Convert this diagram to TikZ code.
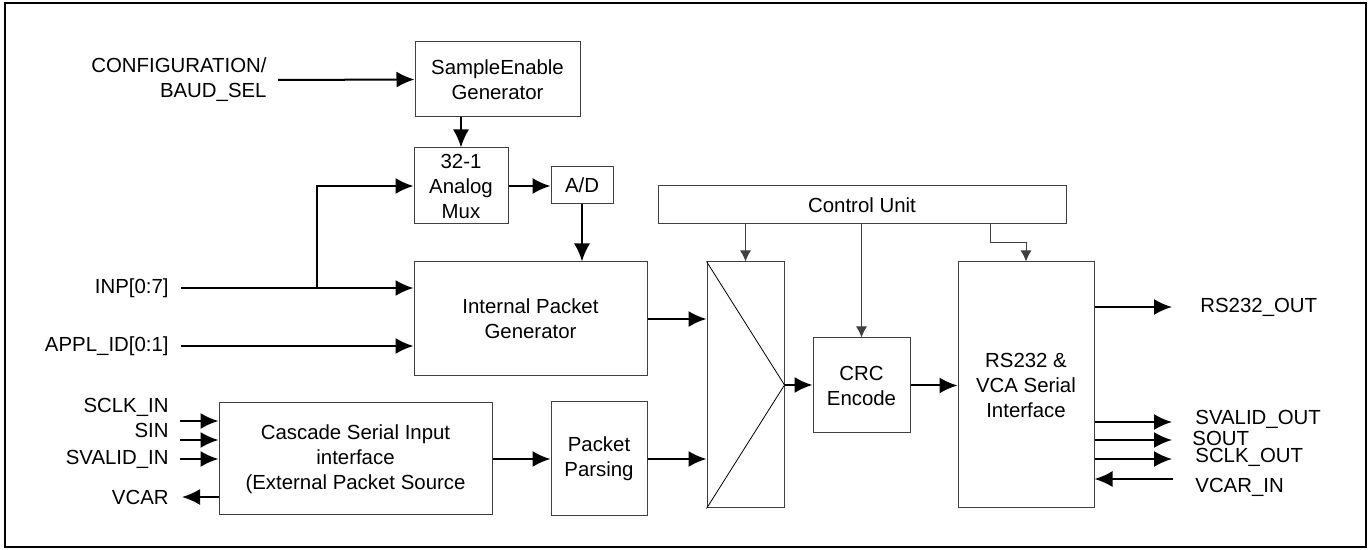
\documentclass[tikz,border=0pt]{standalone}
\usepackage{fontspec}
\setmainfont{Liberation Sans}
\usetikzlibrary{arrows.meta}
\tikzset{
  every node/.style={font=\fontsize{10.2}{12.5}\selectfont},
  block/.style={draw=black!75, line width=0.5pt, rectangle, align=center, inner sep=0pt},
  sig/.style={line width=1pt, -{Latex[length=9pt,width=8pt]}},
  ctl/.style={draw=black!75, line width=0.5pt, -{Latex[length=5.5pt,width=5.5pt]}},
  lbl/.style={inner sep=0pt, align=right}
}

\begin{document}
\begin{tikzpicture}[x=0.5pt, y=-0.5pt]
  \useasboundingbox (0,0) rectangle (1372,550);
  \draw[line width=1pt] (5,3) rectangle (1366,547);

  % blocks
  \node[block, minimum width=82.5pt, minimum height=37.5pt] (sgen)   at (497.5,79.5) {SampleEnable\\Generator};
  \node[block, minimum width=47pt,   minimum height=38pt]   (amux)   at (461,186)    {32-1\\Analog\\Mux};
  \node[block, minimum width=31pt,   minimum height=18.5pt] (adc)    at (582,185.5)  {A/D};
  \node[block, minimum width=116.5pt,minimum height=57pt]   (ipg)    at (530.5,319)  {Internal Packet\\Generator};
  \node[block, minimum width=136.5pt,minimum height=56pt]   (csi)    at (355.5,459)  {Cascade Serial Input\\interface\\(External Packet Source};
  \node[block, minimum width=48pt,   minimum height=57pt]   (pparse) at (599,459)    {Packet\\Parsing};
  \node[block, minimum width=38.5pt, minimum height=123pt]  (mux)    at (745.5,385)  {};
  \node[block, minimum width=204pt,  minimum height=19pt]   (ctrl)   at (862,205)    {Control Unit};
  \node[block, minimum width=48.5pt, minimum height=47.5pt] (crc)    at (861.5,385.5){CRC\\Encode};
  \node[block, minimum width=68pt,   minimum height=123pt]  (rsvca)  at (1026,385)   {RS232 \&\\VCA Serial\\Interface};
  \draw[line width=0.4pt] (mux.north west) -- (mux.east) -- (mux.south west);

  % input labels
  \node[lbl, anchor=east] (lcfg)   at (267,80)  {CONFIGURATION/\\BAUD\_SEL};
  \node[lbl, anchor=east] (linp)   at (169,288) {INP[0:7]};
  \node[lbl, anchor=east] (lappl)  at (169,346) {APPL\_ID[0:1]};
  \node[lbl, anchor=east] (lsclk)  at (169,407) {SCLK\_IN};
  \node[lbl, anchor=east] (lsin)   at (169,430) {SIN};
  \node[lbl, anchor=east] (lsval)  at (169,459) {SVALID\_IN};
  \node[lbl, anchor=east] (lvcar)  at (169,497) {VCAR};

  % output labels
  \node[lbl, anchor=west] (lrsout) at (1200,307) {RS232\_OUT};
  \node[lbl, anchor=west] (lsvout) at (1195,419) {SVALID\_OUT};
  \node[lbl, anchor=west] (lsout)  at (1192,438) {SOUT};
  \node[lbl, anchor=west] (lckout) at (1195,457) {SCLK\_OUT};
  \node[lbl, anchor=west] (lvcin)  at (1195,487) {VCAR\_IN};

  % free ends
  \coordinate (cfg)   at (278,80);
  \coordinate (inp)   at (181,288);
  \coordinate (tap)   at (317,288);
  \coordinate (appl)  at (181,346);
  \coordinate (sclk)  at (180,421);
  \coordinate (sin)   at (180,440);
  \coordinate (sval)  at (180,459);
  \coordinate (vcar)  at (182,497);
  \coordinate (rsout) at (1172,307);
  \coordinate (svout) at (1172,422);
  \coordinate (sout)  at (1172,440);
  \coordinate (ckout) at (1172,459);
  \coordinate (vcin)  at (1173,479);

  % signals
  \draw[sig] (cfg) -- (sgen.west);
  \draw[sig] (sgen.south -| amux.north) -- (amux.north);
  \draw[sig] (inp) -- (inp -| ipg.west);
  \draw[sig] (tap) |- (amux.west);
  \draw[sig] (appl) -- (appl -| ipg.west);
  \draw[sig] (amux.east) -- (amux.east -| adc.west);
  \draw[sig] (adc.south) -- (adc.south |- ipg.north);
  \draw[sig] (sclk) -- (sclk -| csi.west);
  \draw[sig] (sin) -- (sin -| csi.west);
  \draw[sig] (sval) -- (sval -| csi.west);
  \draw[sig] (vcar -| csi.west) -- (vcar);
  \draw[sig] (csi.east) -- (csi.east -| pparse.west);
  \draw[sig] (ipg.east) -- (ipg.east -| mux.west);
  \draw[sig] (pparse.east) -- (pparse.east -| mux.west);
  \draw[sig] (mux.east) -- (mux.east -| crc.west);
  \draw[sig] (crc.east) -- (crc.east -| rsvca.west);
  \draw[sig] (rsout -| rsvca.east) -- (rsout);
  \draw[sig] (svout -| rsvca.east) -- (svout);
  \draw[sig] (sout -| rsvca.east) -- (sout);
  \draw[sig] (ckout -| rsvca.east) -- (ckout);
  \draw[sig] (vcin) -- (vcin -| rsvca.east);

  % control
  \draw[ctl] (ctrl.south -| mux.north) -- (mux.north);
  \draw[ctl] (ctrl.south -| crc.north) -- (crc.north);
  \draw[ctl] ([xshift=-38pt]ctrl.south east) -- ++(0,18) -| (rsvca.north);
\end{tikzpicture}
\end{document}
